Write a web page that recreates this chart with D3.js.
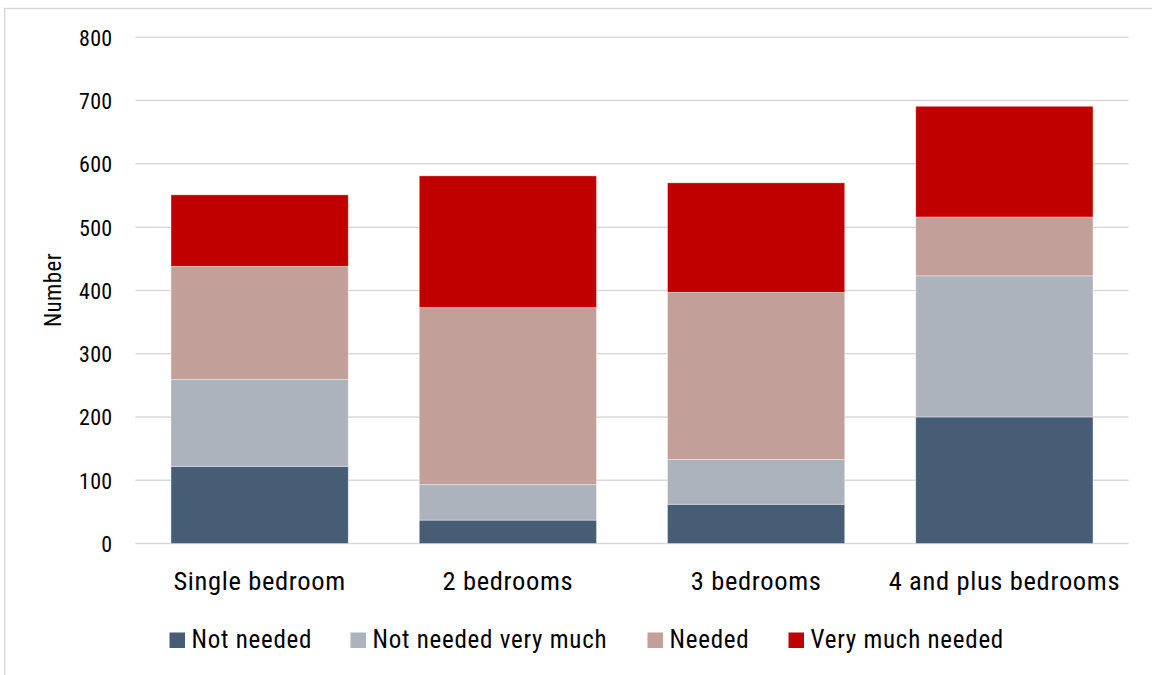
<!DOCTYPE html>
<html>
<head>
<meta charset="utf-8">
<script src="https://cdn.jsdelivr.net/npm/d3@7/dist/d3.min.js"></script>
<style>
  html, body { margin: 0; padding: 0; background: #fff; }
  svg { display: block; }
  svg text { font-family: "Roboto Condensed", "Liberation Sans Narrow", "Open Sans", sans-serif !important; fill: #000; }
</style>
</head>
<body>
<svg id="chart" width="1152" height="675"></svg>
<script>
const categories = ["Single bedroom", "2 bedrooms", "3 bedrooms", "4 and plus bedrooms"];
const seriesNames = ["Not needed", "Not needed very much", "Needed", "Very much needed"];
const notNeeded = [122, 37, 62, 200];
const notNeededVeryMuch = [137, 56, 71, 223];
const needed = [179, 280, 264, 93];
const veryMuchNeeded = [113, 208, 173, 175];
const yTicks = [0, 100, 200, 300, 400, 500, 600, 700, 800];
const colors = ["#475d75", "#adb3bc", "#c29f98", "#c00000"];

const seriesValues = [notNeeded, notNeededVeryMuch, needed, veryMuchNeeded];
const rows = categories.map((c, i) => {
  const r = { category: c };
  seriesNames.forEach((s, j) => r[s] = seriesValues[j][i]);
  return r;
});

const svg = d3.select("#chart");

// outer frame
svg.append("rect").attr("x", 4.75).attr("y", 8.5).attr("width", 1200).attr("height", 700)
  .attr("fill", "none").attr("stroke", "#d9d9d9").attr("stroke-width", 1.5);

const x = d3.scaleBand().domain(categories).range([135.5, 1128.5]).paddingInner(0.286).paddingOuter(0.143);
const y = d3.scaleLinear().domain([0, 800]).range([543.5, 37.3]);

// gridlines
svg.append("g").selectAll("line").data(yTicks).join("line")
  .attr("x1", 135.5).attr("x2", 1128.5)
  .attr("y1", d => y(d)).attr("y2", d => y(d))
  .attr("stroke", "#d9d9d9").attr("stroke-width", 1.5);

// y axis labels
const yAxis = d3.axisLeft(y).tickValues(yTicks).tickSize(0).tickPadding(0);
const gy = svg.append("g").attr("transform", "translate(112.5,0)").call(yAxis);
gy.select(".domain").remove();
gy.selectAll("text").attr("font-size", 22).attr("fill", "#000").attr("dy", "0.36em")
  .attr("letter-spacing", 0.3);

// stacked bars
const stack = d3.stack().keys(seriesNames);
const stacked = stack(rows);
svg.append("g").selectAll("g").data(stacked).join("g")
  .attr("fill", (d, i) => colors[i])
  .selectAll("rect").data(d => d).join("rect")
  .attr("x", d => x(d.data.category))
  .attr("width", x.bandwidth())
  .attr("y", d => y(d[1]))
  .attr("height", d => y(d[0]) - y(d[1]))
  .attr("stroke", "#ffffff").attr("stroke-opacity", 0.5).attr("stroke-width", 0.75);

// x axis labels
const xAxis = d3.axisBottom(x).tickSize(0).tickPadding(0);
const gx = svg.append("g").attr("transform", "translate(0,589.5)").call(xAxis);
gx.select(".domain").remove();
gx.selectAll("text").attr("font-size", 26.5).attr("fill", "#000").attr("dy", 0)
  .attr("letter-spacing", 0.65);

// y axis title
svg.append("text").attr("transform", "translate(61,290) rotate(-90)")
  .attr("text-anchor", "middle").attr("font-size", 23).attr("letter-spacing", 0.4).text("Number");

// legend
const legendX = [169.5, 350.5, 647.5, 788.5];
const lg = svg.append("g").selectAll("g").data(seriesNames).join("g")
  .attr("transform", (d, i) => `translate(${legendX[i]},0)`);
lg.append("rect").attr("x", 0).attr("y", 632.5).attr("width", 15.5).attr("height", 15.5)
  .attr("fill", (d, i) => colors[i]);
lg.append("text").attr("x", 22).attr("y", 647.5).attr("font-size", 25)
  .attr("letter-spacing", 0.75).text(d => d);
</script>
</body>
</html>
